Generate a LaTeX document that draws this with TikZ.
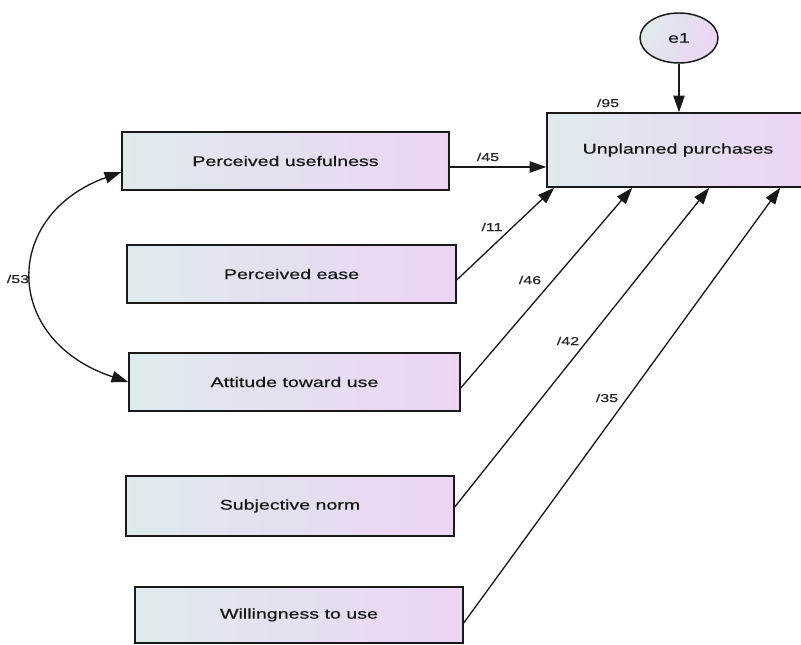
\documentclass[tikz,border=0pt]{standalone}
\usepackage{fontspec}
\newfontfamily\wide[FakeStretch=1.4,FakeBold=0.6]{Liberation Sans}
\usetikzlibrary{arrows.meta,shapes.geometric,calc}
\definecolor{gleft}{RGB}{222,234,236}
\definecolor{gright}{RGB}{236,213,243}
\definecolor{edge}{RGB}{25,25,25}
\begin{document}
\begin{tikzpicture}[x=0.75pt,y=-0.75pt,
  vbox/.style={draw=edge,line width=1.1pt,rectangle,inner sep=0pt,left color=gleft,right color=gright,
    minimum height=43.5pt,
    font=\wide\fontsize{10.5}{12}\selectfont,text=black!90},
  errc/.style={draw=edge,line width=1.1pt,ellipse,inner sep=0pt,minimum width=58.5pt,minimum height=37.5pt,
    shading=axis,left color=gleft,right color=gright,shading angle=60,
    font=\wide\fontsize{10.5}{12}\selectfont,text=black!90},
  arr/.style={draw=edge,line width=1pt,-{Triangle[length=12.5pt,width=8.5pt]}},
  darr/.style={draw=edge,line width=1pt,{Triangle[length=12.5pt,width=8.5pt]}-{Triangle[length=12.5pt,width=8.5pt]}},
  lab/.style={font=\wide\fontsize{8.6}{10}\selectfont,text=black!85,inner sep=0pt}]
\useasboundingbox (0,0) rectangle (801,645);
\clip (0,0) rectangle (801,645);
\fill[white] (0,0) rectangle (801,645);
% boxes
\node[vbox,minimum width=245.25pt] (pu) at (285.5,161) {Perceived usefulness};
\node[vbox,minimum width=246.75pt] (pe) at (291.5,274) {Perceived ease};
\node[vbox,minimum width=248.25pt] (at) at (294.5,382) {Attitude toward use};
\node[vbox,minimum width=246pt,minimum height=45pt] (sn) at (290,506) {Subjective norm};
\node[vbox,minimum width=246pt,minimum height=42pt] (wu) at (299,615) {Willingness to use};
\node[vbox,minimum width=196.5pt,minimum height=55.5pt] (up) at (678,150) {Unplanned purchases};
\node[errc] (e1) at (679,38) {e1};
% coordinates
\coordinate (s1) at ($(pu.east)+(0,6)$);
\coordinate (s2) at ($(pe.east)+(0,6)$);
\coordinate (s3) at ($(at.east)+(0,6)$);
\coordinate (s4) at ($(sn.east)+(0,1)$);
\coordinate (s5) at ($(wu.east)+(0,8)$);
\coordinate (t2) at ($(up.south west)+(8,0)$);
\coordinate (t3) at ($(up.south west)+(86,0)$);
\coordinate (t4) at ($(up.south west)+(163,0)$);
\coordinate (t5) at ($(up.south west)+(234,0)$);
\coordinate (c1) at ($(pu.west)+(0,11)$);
% connectors
\draw[arr] (e1.south) -- (e1.south |- up.north);
\draw[arr] (s1) -- (s1 -| up.west);
\draw[arr] (s2) -- (t2);
\draw[arr] (s3) -- (t3);
\draw[arr] (s4) -- (t4);
\draw[arr] (s5) -- (t5);
\draw[darr] (c1) .. controls (2,215) and (2,340) .. (at.west);
% labels
\node[lab] (l95) at (608,103) {/95};
\node[lab] (l45) at (488,157) {/45};
\node[lab] (l11) at (492,227) {/11};
\node[lab] (l46) at (530,280) {/46};
\node[lab] (l42) at (568,341) {/42};
\node[lab] (l35) at (607,398) {/35};
\node[lab] (l53) at (18,279) {/53};
\end{tikzpicture}
\end{document}
